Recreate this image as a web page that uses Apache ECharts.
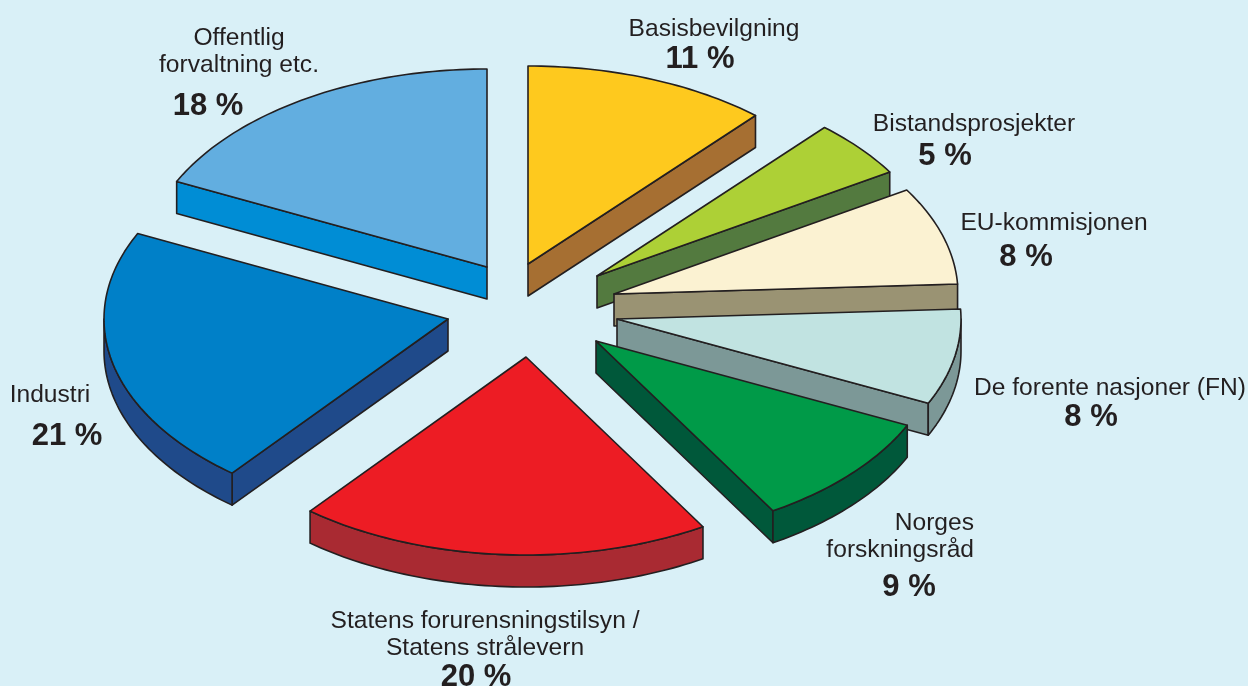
<!DOCTYPE html>
<html lang="no">
    <head>
        <meta charset="utf-8" />
        <title>Finansieringskilder</title>
        <style type="text/css">
            html, body { margin: 0; padding: 0; background: #d9f0f7; }
            #chart { width: 1248px; height: 686px; }
        </style>
    </head>
    <body>
        <div id="chart"></div>
        <script src="https://cdn.jsdelivr.net/npm/echarts@6/dist/echarts.min.js"></script>
        <script>
            //----------Data----------//
            const sliceNames = [
                "Basisbevilgning",
                "Bistandsprosjekter",
                "EU-kommisjonen",
                "De forente nasjoner (FN)",
                "Norges\nforskningsråd",
                "Statens forurensningstilsyn /\nStatens strålevern",
                "Industri",
                "Offentlig\nforvaltning etc."
            ];
            // printed percentages
            const percentLabels = ["11 %", "5 %", "8 %", "8 %", "9 %", "20 %", "21 %", "18 %"];
            // size of each slice as drawn (the arcs differ slightly from the printed numbers)
            const sliceShares = [11.5, 4.7, 8.0, 7.8, 9.4, 19.4, 21.3, 17.9];

            //----------Layout and styles----------//
            const center = [510, 305];
            const radiusX = 344;
            const radiusY = 198;
            const depth = 32;
            // how far each slice is pulled out of the pie
            const explode = [[18, -41], [87, -29], [104, -11], [107, 14], [86, 36], [16, 52], [-62, 14], [-23, -38]];
            const topColors = ["#fec91e", "#add036", "#fbf2d2", "#c1e3e1", "#009a48", "#ed1c24", "#0080c8", "#62aee0"];
            const sideColors = ["#a66f32", "#537a3f", "#9a9373", "#7c9897", "#00583a", "#a92a32", "#1f4a8a", "#008dd5"];
            const inkColor = "#231f20";
            // [name x, name y, percent x, percent y, name align]
            const labelPlaces = [
                [714, 28, 700, 59, "center"],
                [974, 123, 945, 156, "center"],
                [1054, 222, 1026, 257, "center"],
                [1110, 387, 1091, 417, "center"],
                [974, 522, 909, 587, "right"],
                [485, 620, 476, 677, "center"],
                [50, 394, 67, 436, "center"],
                [239, 37, 208, 106, "center"]
            ];

            const total = sliceShares.reduce((a, b) => a + b, 0);

            const renderSlice = (params, api) => {
                const i = params.dataIndex;
                let before = 0;
                for (let k = 0; k < i; k++) {
                    before += sliceShares[k];
                }
                const startAngle = before / total * Math.PI * 2;
                const endAngle = (before + api.value(0)) / total * Math.PI * 2;
                const apex = [center[0] + explode[i][0], center[1] + explode[i][1]];

                // points on the tilted circle, clockwise from twelve o'clock
                const arcPoints = (from, to) => {
                    const points = [];
                    const steps = Math.ceil((to - from) / 0.02);
                    for (let s = 0; s <= steps; s++) {
                        const a = from + (to - from) * s / steps;
                        points.push([apex[0] + radiusX * Math.sin(a), apex[1] - radiusY * Math.cos(a)]);
                    }
                    return points;
                };
                const arc = arcPoints(startAngle, endAngle);
                const down = (p) => [p[0], p[1] + depth];
                const first = arc[0];
                const last = arc[arc.length - 1];

                const shape = (points, fill) => ({
                    type: "polygon",
                    shape: { points: points },
                    style: { fill: fill, stroke: inkColor, lineWidth: 1.6, lineJoin: "round" }
                });

                // only the walls turned towards us get drawn
                const side = sideColors[i];
                const children = [];
                if (Math.sin(startAngle) < -0.001) {
                    children.push(shape([apex, first, down(first), down(apex)], side));
                }
                if (Math.sin(endAngle) > 0.001) {
                    children.push(shape([apex, last, down(last), down(apex)], side));
                }
                const rimFrom = Math.max(startAngle, Math.PI / 2);
                const rimTo = Math.min(endAngle, Math.PI * 1.5);
                if (rimTo > rimFrom) {
                    const rim = arcPoints(rimFrom, rimTo);
                    children.push(shape(rim.concat(rim.map(down).reverse()), side));
                }
                children.push(shape([apex].concat(arc), topColors[i]));

                const place = labelPlaces[i];
                children.push({
                    type: "text",
                    x: place[0],
                    y: place[1] - 13,
                    style: {
                        text: sliceNames[i],
                        fill: inkColor,
                        font: "24.6px 'Liberation Sans', Arial, sans-serif",
                        lineHeight: 27.5,
                        align: place[4],
                        verticalAlign: "top"
                    }
                });
                children.push({
                    type: "text",
                    x: place[2],
                    y: place[3],
                    style: {
                        text: percentLabels[i],
                        fill: inkColor,
                        font: "bold 31px 'Liberation Sans', Arial, sans-serif",
                        align: "center",
                        verticalAlign: "middle"
                    }
                });
                return { type: "group", children: children };
            };

            const chart = echarts.init(document.querySelector("#chart"));
            chart.setOption({
                animation: false,
                backgroundColor: "#d9f0f7",
                series: [{
                    type: "custom",
                    coordinateSystem: "none",
                    silent: true,
                    clip: false,
                    renderItem: renderSlice,
                    data: sliceShares.map((v) => [v])
                }]
            });
        </script>
    </body>
</html>
